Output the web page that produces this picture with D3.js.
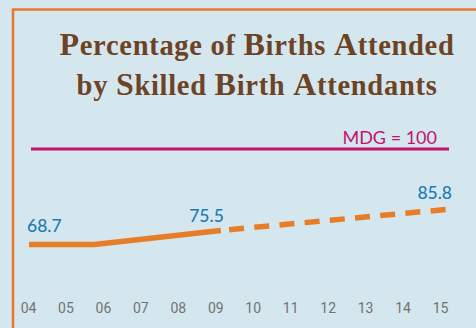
<!DOCTYPE html>
<html><head><meta charset="utf-8">
<script src="https://cdn.jsdelivr.net/npm/d3@7"></script>
<style>html,body{margin:0;padding:0;background:#d4e7ee;}svg{display:block;}</style>
</head><body>
<script>
const titleLines = ["Percentage of Births Attended", "by Skilled Birth Attendants"];
const tickLabels = ["04","05","06","07","08","09","10","11","12","13","14","15"];
const solidYears = [2004, 2005.7, 2009];
const solidValues = [68.7, 68.7, 75.5];
const dashedYears = [2009, 2015];
const dashedValues = [75.5, 85.8];
const labelYears = [2004, 2009, 2015];
const labelValues = [68.7, 75.5, 85.8];
const mdgValue = 100;
const mdgLabel = "MDG = 100";

const W = 476, H = 328;
const svg = d3.select("body").append("svg").attr("width", W).attr("height", H);
svg.append("rect").attr("width", W).attr("height", H).attr("fill", "#d4e7ee");

// orange frame
svg.append("path").attr("d", `M13,${H} V9.5 H${W}`).attr("fill", "none")
  .attr("stroke", "#e8792a").attr("stroke-width", 2.5);

// title
const titleBaselines = [55, 95];
titleLines.forEach((line, i) => {
  const t = svg.append("text").attr("x", 257).attr("y", titleBaselines[i])
    .attr("text-anchor", "middle").attr("fill", "#6e4325")
    .attr("font-family", "Liberation Serif").attr("font-weight", "bold")
    .attr("letter-spacing", 0.7);
  line.split("").forEach(c => {
    t.append("tspan").attr("font-size", /[A-Z]/.test(c) ? 32 : 28.5).text(c);
  });
});

const x = d3.scaleLinear().domain([2004, 2015]).range([29, 451]);
const y = d3.scaleLinear().domain([60, 86, 100]).range([262.6, 208.6, 149]);

// MDG reference line
svg.append("line").attr("x1", x(2004) + 2).attr("x2", x(2015) - 2)
  .attr("y1", y(mdgValue)).attr("y2", y(mdgValue))
  .attr("stroke", "#c2136f").attr("stroke-width", 3);
svg.append("text").attr("x", 437).attr("y", y(mdgValue) - 5)
  .attr("text-anchor", "end").attr("fill", "#c2136f")
  .attr("font-family", "Lato").attr("font-size", 18).text(mdgLabel);

const line = d3.line().x(d => x(d[0])).y(d => y(d[1]));
svg.append("path").datum(d3.zip(solidYears, solidValues)).attr("d", line)
  .attr("fill", "none").attr("stroke", "#e87d27").attr("stroke-width", 5.5)
  .attr("stroke-linejoin", "round");
svg.append("path").datum(d3.zip(dashedYears, dashedValues)).attr("d", line)
  .attr("fill", "none").attr("stroke", "#e87d27").attr("stroke-width", 5.5)
  .attr("stroke-dasharray", "15,10.3").attr("stroke-dashoffset", 17);

// value labels
const anchors = ["start", "end", "end"];
const dxs = [-2, 3, 1];
const dys = [-12.5, -8, -10];
svg.selectAll("text.val").data(d3.zip(labelYears, labelValues)).join("text")
  .attr("class", "val")
  .attr("x", (d, i) => x(d[0]) + dxs[i]).attr("y", (d, i) => y(d[1]) + dys[i])
  .attr("text-anchor", (d, i) => anchors[i])
  .attr("fill", "#1a7bb5").attr("font-family", "Lato").attr("font-size", 17.5)
  .attr("font-weight", 500)
  .text(d => d[1].toFixed(1));

// x tick labels
const xp = d3.scalePoint().domain(tickLabels).range([28, 440]);
const ax = svg.append("g").attr("transform", "translate(0,313)")
  .call(d3.axisBottom(xp).tickSize(0).tickPadding(0));
ax.select(".domain").remove();
ax.selectAll("text").attr("y", 0).attr("dy", null)
  .attr("fill", "#727272").attr("font-family", "Roboto").attr("font-size", 14);
</script>
</body></html>
